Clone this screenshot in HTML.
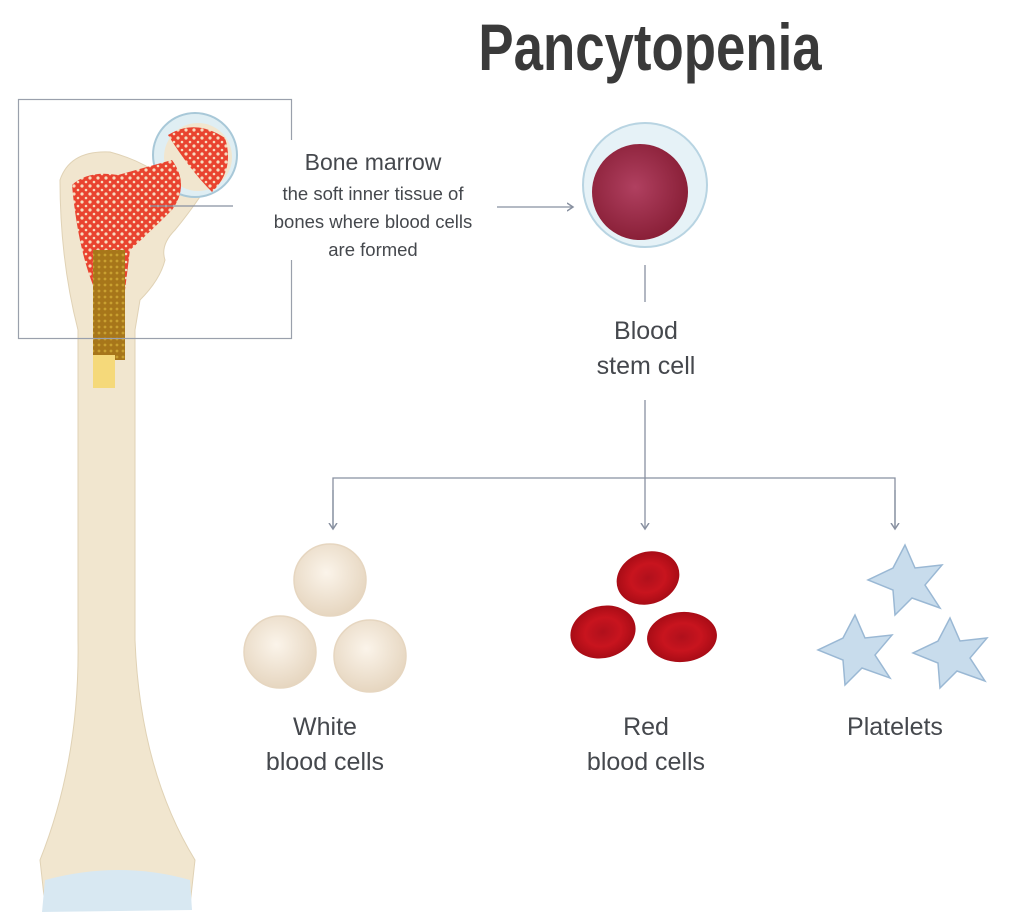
<!DOCTYPE html>
<html><head><meta charset="utf-8"><style>
html,body{margin:0;padding:0;background:#fff;}
svg{display:block}
text{font-family:"Liberation Sans",sans-serif;fill:#45484d}
</style></head><body>
<svg width="1024" height="924" viewBox="0 0 1024 924" xmlns="http://www.w3.org/2000/svg">
<defs>
<marker id="ah" markerWidth="10" markerHeight="10" refX="5" refY="5" orient="auto" markerUnits="userSpaceOnUse">
<path d="M0,1 L6,5 L0,9" fill="none" stroke="#8890a0" stroke-width="1.5"/></marker>
<pattern id="marrow" width="8" height="8" patternUnits="userSpaceOnUse">
<rect width="8" height="8" fill="#e9432f"/>
<circle cx="2" cy="2" r="1.6" fill="#f6dcc0"/><circle cx="6" cy="6" r="1.3" fill="#f6dcc0"/></pattern>
<pattern id="yellow" width="6" height="6" patternUnits="userSpaceOnUse">
<rect width="6" height="6" fill="#a7761a"/><circle cx="3" cy="3" r="1.4" fill="#c9a030"/></pattern>
<radialGradient id="rbc" cx="50%" cy="50%" r="50%"><stop offset="0" stop-color="#b0101c"/><stop offset="0.55" stop-color="#c8141e"/><stop offset="1" stop-color="#a80c16"/></radialGradient>
<radialGradient id="stem" cx="45%" cy="45%" r="55%"><stop offset="0" stop-color="#b04060"/><stop offset="1" stop-color="#8a2038"/></radialGradient>
<radialGradient id="wbc" cx="45%" cy="40%" r="60%"><stop offset="0" stop-color="#fbf4ea"/><stop offset="1" stop-color="#e6d6c0"/></radialGradient>
</defs>
<text x="650" y="70" font-size="66" font-weight="bold" text-anchor="middle" transform="translate(650 0) scale(0.8 1) translate(-650 0)" style="fill:#3a3a3a">Pancytopenia</text>

<!-- bone -->
<path d="M60,180 Q70,150 110,152 Q140,160 160,175 Q175,140 200,125 L230,150 Q200,200 175,230 Q160,245 165,260 Q160,280 140,300 L135,330 L135,640 Q140,770 195,860 L190,905 L45,905 L40,860 Q80,760 78,640 L78,330 Q60,260 60,180 Z" fill="#f1e6cf" stroke="#e0d2b5"/>
<path d="M45,880 Q120,860 190,880 L192,910 L42,912 Z" fill="#d8e8f2"/>
<circle cx="195" cy="155" r="42" fill="#dfeef3" stroke="#a8c8d8" stroke-width="2"/>
<circle cx="198" cy="157" r="34" fill="#f1e6cf"/>
<path d="M168,135 Q195,118 225,138 Q235,170 212,192 Q190,170 168,135Z" fill="url(#marrow)"/>
<path d="M72,185 Q88,170 118,175 L172,160 Q190,185 172,210 Q150,232 130,250 L125,290 L95,290 Q78,250 72,185Z" fill="url(#marrow)"/>
<rect x="93" y="250" width="32" height="110" fill="url(#yellow)"/>
<rect x="93" y="355" width="22" height="33" fill="#f5d97a"/>

<rect x="18.5" y="99.5" width="273" height="239" fill="none" stroke="#9aa0ac" stroke-width="1.2"/>
<rect x="287" y="140" width="10" height="120" fill="#fff"/>
<line x1="150" y1="206" x2="233" y2="206" stroke="#8890a0" stroke-width="1.3"/>
<text x="373" y="170" font-size="23" text-anchor="middle">Bone marrow</text>
<text x="373" y="200" font-size="18.5" text-anchor="middle">the soft inner tissue of</text>
<text x="373" y="228" font-size="18.5" text-anchor="middle">bones where blood cells</text>
<text x="373" y="256" font-size="18.5" text-anchor="middle">are formed</text>
<line x1="497" y1="207" x2="572" y2="207" stroke="#8890a0" stroke-width="1.3" marker-end="url(#ah)"/>

<circle cx="645" cy="185" r="62" fill="#e6f2f7" stroke="#b8d4e2" stroke-width="2"/>
<circle cx="640" cy="192" r="48" fill="url(#stem)"/>
<line x1="645" y1="265" x2="645" y2="302" stroke="#8890a0" stroke-width="1.3"/>
<text x="646" y="339" font-size="25" text-anchor="middle">Blood</text>
<text x="646" y="374" font-size="25" text-anchor="middle">stem cell</text>
<line x1="645" y1="400" x2="645" y2="478" stroke="#8890a0" stroke-width="1.3"/>
<polyline points="333,528 333,478 895,478 895,528" fill="none" stroke="#8890a0" stroke-width="1.3"/>
<line x1="333" y1="490" x2="333" y2="528" stroke="#8890a0" stroke-width="1.3" marker-end="url(#ah)"/>
<line x1="645" y1="478" x2="645" y2="528" stroke="#8890a0" stroke-width="1.3" marker-end="url(#ah)"/>
<line x1="895" y1="490" x2="895" y2="528" stroke="#8890a0" stroke-width="1.3" marker-end="url(#ah)"/>

<g stroke="#e6d6c0" stroke-width="1.5">
<circle cx="330" cy="580" r="36" fill="url(#wbc)"/>
<circle cx="280" cy="652" r="36" fill="url(#wbc)"/>
<circle cx="370" cy="656" r="36" fill="url(#wbc)"/>
</g>
<g>
<ellipse cx="648" cy="578" rx="32" ry="26" fill="url(#rbc)" transform="rotate(-20 648 578)"/>
<ellipse cx="603" cy="632" rx="33" ry="26" fill="url(#rbc)" transform="rotate(-15 603 632)"/>
<ellipse cx="682" cy="637" rx="35" ry="25" fill="url(#rbc)" transform="rotate(-5 682 637)"/>
</g>
<g fill="#c8dcec" stroke="#9ab8d4" stroke-width="1.5">
<path d="M905,545 L915,568 L942,565 L925,585 L940,608 L912,598 L895,615 L893,590 L868,580 L893,568 Z"/>
<path d="M855,615 L865,638 L892,635 L875,655 L890,678 L862,668 L845,685 L843,660 L818,650 L843,638 Z"/>
<path d="M950,618 L960,641 L987,638 L970,658 L985,681 L957,671 L940,688 L938,663 L913,653 L938,641 Z"/>
</g>
<text x="325" y="735" font-size="25" text-anchor="middle">White</text>
<text x="325" y="770" font-size="25" text-anchor="middle">blood cells</text>
<text x="646" y="735" font-size="25" text-anchor="middle">Red</text>
<text x="646" y="770" font-size="25" text-anchor="middle">blood cells</text>
<text x="895" y="735" font-size="25" text-anchor="middle">Platelets</text>
</svg>
</body></html>
